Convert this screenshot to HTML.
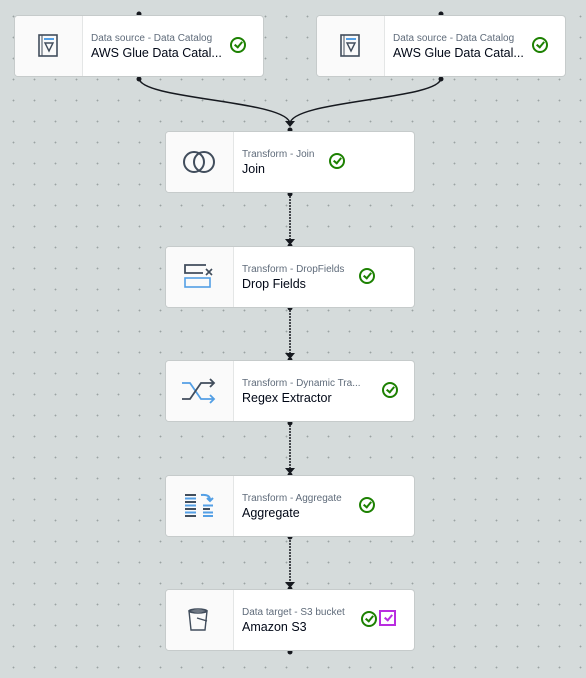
<!DOCTYPE html>
<html><head><style>
body{margin:0;width:586px;height:678px;overflow:hidden;background-color:#d5dbdb;background-image:radial-gradient(circle,#9aa2a2 0.7px,transparent 1.1px);background-size:21px 21px;background-position:3px 6px;font-family:"Liberation Sans",sans-serif;position:relative}
.n{position:absolute;width:248px;height:60px;background:#fff;border-radius:3px;box-shadow:0 0 0 1px #c6cbcb}
.ic{position:absolute;left:0;top:0;width:67px;height:60px;background:#fafafa;border-right:1px solid #e4e6e6;border-radius:3px 0 0 3px}
.ic svg{position:absolute;left:16px;top:14px}
.l{position:absolute;left:76px;top:17px;font-size:10px;color:#5f6b7a;white-space:nowrap}
.t{position:absolute;left:76px;top:30px;font-size:12.5px;color:#000716;white-space:nowrap}
.ok{position:absolute;top:21px;width:16px;height:16px;border:2px solid #1d8102;border-radius:50%;box-sizing:border-box}
.ok:after{content:"";position:absolute;left:4px;top:1px;width:3px;height:6px;border:solid #1d8102;border-width:0 2px 2px 0;transform:rotate(40deg)}
svg.w{position:absolute;left:0;top:0}
</style></head><body>
<svg class="w" width="586" height="678">
<g fill="none" stroke="#16191f" stroke-width="1.5">
<path d="M139 78 C139 100 290 100 290 124"/>
<path d="M441 78 C441 100 290 100 290 124"/>
<path d="M290 193 V244 M290 307 V358 M290 422 V473 M290 537 V587" stroke-dasharray="2 1"/>
</g>
<g fill="#16191f">
<circle cx="139" cy="14" r="2.5"/><circle cx="441" cy="14" r="2.5"/>
<circle cx="139" cy="79" r="2.5"/><circle cx="441" cy="79" r="2.5"/>
<path d="M285 121 L295 121 L290 127Z"/><circle cx="290" cy="130" r="2.5"/>
<circle cx="290" cy="194" r="2.5"/><path d="M285 239 L295 239 L290 245Z"/><circle cx="290" cy="246" r="2.5"/>
<circle cx="290" cy="308" r="2.5"/><path d="M285 353 L295 353 L290 359Z"/><circle cx="290" cy="360" r="2.5"/>
<circle cx="290" cy="423" r="2.5"/><path d="M285 468 L295 468 L290 474Z"/><circle cx="290" cy="475" r="2.5"/>
<circle cx="290" cy="537" r="2.5"/><path d="M285 582 L295 582 L290 588Z"/><circle cx="290" cy="589" r="2.5"/>
<circle cx="290" cy="652" r="2.5"/>
</g></svg>

<div class="n" style="left:15px;top:16px"><div class="ic"><svg width="34" height="32"><rect x="8" y="5" width="18" height="21" fill="none" stroke="#414d5c" stroke-width="1.6"/><path d="M11 5 V26" stroke="#414d5c" stroke-width="1"/><rect x="13" y="8" width="10" height="2" fill="#539fe5"/><path d="M14 13 H22 L18 21Z" fill="none" stroke="#414d5c" stroke-width="1.4"/></svg></div><div class="l">Data source - Data Catalog</div><div class="t">AWS Glue Data Catal...</div><div class="ok" style="left:215px"></div></div>
<div class="n" style="left:317px;top:16px"><div class="ic"><svg width="34" height="32"><rect x="8" y="5" width="18" height="21" fill="none" stroke="#414d5c" stroke-width="1.6"/><path d="M11 5 V26" stroke="#414d5c" stroke-width="1"/><rect x="13" y="8" width="10" height="2" fill="#539fe5"/><path d="M14 13 H22 L18 21Z" fill="none" stroke="#414d5c" stroke-width="1.4"/></svg></div><div class="l">Data source - Data Catalog</div><div class="t">AWS Glue Data Catal...</div><div class="ok" style="left:215px"></div></div>

<div class="n" style="left:166px;top:132px"><div class="ic"><svg width="34" height="32"><circle cx="12" cy="16" r="10" fill="none" stroke="#414d5c" stroke-width="2"/><circle cx="22" cy="16" r="10" fill="none" stroke="#414d5c" stroke-width="2"/></svg></div><div class="l">Transform - Join</div><div class="t">Join</div><div class="ok" style="left:163px"></div></div>

<div class="n" style="left:166px;top:247px"><div class="ic"><svg width="34" height="32"><path d="M21 12 H3 V4 H24" fill="none" stroke="#414d5c" stroke-width="1.8"/><path d="M24 8 L30 14 M30 8 L24 14" stroke="#414d5c" stroke-width="1.6"/><rect x="3" y="17" width="25" height="9" fill="none" stroke="#539fe5" stroke-width="1.6"/></svg></div><div class="l">Transform - DropFields</div><div class="t">Drop Fields</div><div class="ok" style="left:193px"></div></div>

<div class="n" style="left:166px;top:361px"><div class="ic"><svg width="34" height="32"><path d="M0 8 H8 L19 24 H32 M28 20 L32 24 L28 28" fill="none" stroke="#539fe5" stroke-width="1.8"/><path d="M0 24 H8 L19 8 H32 M28 4 L32 8 L28 12" fill="none" stroke="#414d5c" stroke-width="1.8"/></svg></div><div class="l">Transform - Dynamic Tra...</div><div class="t">Regex Extractor</div><div class="ok" style="left:216px"></div></div>

<div class="n" style="left:166px;top:476px"><div class="ic"><svg width="34" height="32"><g stroke-width="2"><path d="M3 5 H14 M3 12 H14 M3 19 H14 M3 26 H14 M21 19 H28" stroke="#414d5c"/><path d="M3 8.5 H14 M3 15.5 H14 M3 22.5 H14 M21 15.5 H31 M21 22.5 H31 M21 26 H31" stroke="#539fe5"/><path d="M19 5 Q28 4 28 10 M25 8 L28 11 L31 8" fill="none" stroke="#539fe5"/></g></svg></div><div class="l">Transform - Aggregate</div><div class="t">Aggregate</div><div class="ok" style="left:193px"></div></div>

<div class="n" style="left:166px;top:590px"><div class="ic"><svg width="34" height="32"><path d="M7 7 H25 L23 26 H9Z" fill="none" stroke="#414d5c" stroke-width="1.4"/><ellipse cx="16" cy="7" rx="9" ry="2" fill="none" stroke="#414d5c" stroke-width="1.4"/><path d="M15 14 L25 17" stroke="#414d5c" stroke-width="1.4"/></svg></div><div class="l">Data target - S3 bucket</div><div class="t">Amazon S3</div><div class="ok" style="left:195px"></div><div style="position:absolute;left:213px;top:20px;width:17px;height:16px;border:2px solid #b92de0;box-sizing:border-box"><div style="position:absolute;left:5px;top:1px;width:3px;height:6px;border:solid #b92de0;border-width:0 2px 2px 0;transform:rotate(40deg)"></div></div></div>
</body></html>
